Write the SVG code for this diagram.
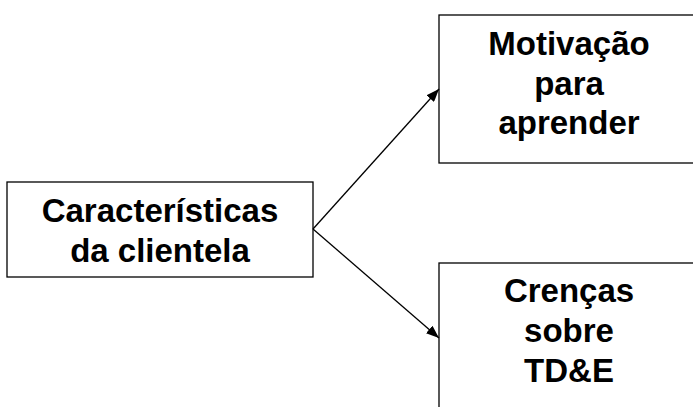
<svg xmlns="http://www.w3.org/2000/svg" width="693" height="407" viewBox="0 0 693 407">
  <style>
    .box { fill: #ffffff; stroke: #000000; stroke-width: 1.3; }
    .lbl { font-family: "Liberation Sans", Arial, sans-serif; font-weight: bold; font-size: 33px; fill: #000000; text-anchor: middle; }
    .edge { stroke: #000000; stroke-width: 1.3; fill: none; marker-end: url(#tip); }
  </style>
  <defs>
    <marker id="tip" viewBox="0 0 13 10" refX="13" refY="5" markerWidth="13" markerHeight="10" markerUnits="userSpaceOnUse" orient="auto">
      <path d="M0,0 L13,5 L0,10 Z" fill="#000000"/>
    </marker>
  </defs>
  <rect width="693" height="407" fill="#ffffff"/>

  <g id="clientela">
    <rect class="box" x="7" y="182" width="306" height="95"/>
    <text class="lbl" x="160" y="222">Características</text>
    <text class="lbl" x="160" y="262">da clientela</text>
  </g>

  <g id="motivacao">
    <rect class="box" x="439" y="15" width="270" height="148"/>
    <text class="lbl" x="569" y="55">Motivação</text>
    <text class="lbl" x="569" y="95">para</text>
    <text class="lbl" x="569" y="134">aprender</text>
  </g>

  <g id="crencas">
    <rect class="box" x="439" y="263" width="270" height="160"/>
    <text class="lbl" x="569" y="302">Crenças</text>
    <text class="lbl" x="569" y="342">sobre</text>
    <text class="lbl" x="569" y="382">TD&amp;E</text>
  </g>

  <g id="connectors">
    <line class="edge" x1="313" y1="229" x2="439" y2="89"/>
    <line class="edge" x1="313" y1="229" x2="439" y2="338"/>
  </g>
</svg>
